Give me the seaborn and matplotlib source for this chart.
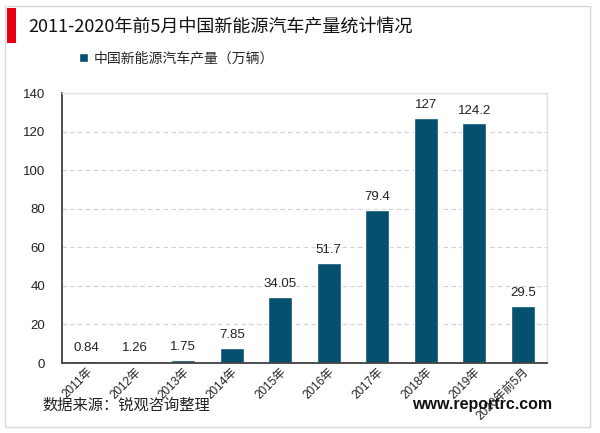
import matplotlib
matplotlib.use("Agg")
import matplotlib.pyplot as plt
import seaborn as sns
import pandas as pd
from matplotlib.patches import Rectangle

years = ["2011年", "2012年", "2013年", "2014年", "2015年", "2016年",
         "2017年", "2018年", "2019年", "2020年前5月"]
output = [0.84, 1.26, 1.75, 7.85, 34.05, 51.7, 79.4, 127, 124.2, 29.5]
value_labels = ["0.84", "1.26", "1.75", "7.85", "34.05", "51.7", "79.4", "127", "124.2", "29.5"]
y_ticks = [0, 20, 40, 60, 80, 100, 120, 140]
series_name = "中国新能源汽车产量（万辆）"

sns.set_style("white")
plt.rcParams['font.family'] = ['Liberation Sans', 'Noto Sans CJK SC', 'DejaVu Sans']

bar_color = "#04506e"
df = pd.DataFrame({"year": years, "output": output})

fig = plt.figure(figsize=(6, 4.33), dpi=100)

# outer frame and red marker
fig.patches.append(Rectangle((5 / 600, 6 / 433), 585 / 600, 421 / 433, transform=fig.transFigure,
                             fill=False, edgecolor="#d9d9d9", linewidth=1))
fig.patches.append(Rectangle((7 / 600, 1 - 43 / 433), 9 / 600, 35 / 433, transform=fig.transFigure,
                             facecolor="#e60012", edgecolor="none"))
fig.text(28 / 600, 1 - 27 / 433, "2011-2020年前5月中国新能源汽车产量统计情况", fontsize=13,
         family=['Noto Sans CJK SC', 'DejaVu Sans'], va="center", ha="left", color="#111111")

ax = fig.add_axes([62 / 600, 70 / 433, 485 / 600, 270 / 433])
sns.barplot(data=df, x="year", y="output", color=bar_color, width=0.5, saturation=1, ax=ax,
            label=series_name)

ax.set_ylim(0, 140)
ax.set_yticks(y_ticks)
ax.set_xlim(-0.5, len(years) - 0.5)
ax.yaxis.grid(True, linestyle=(0, (4, 3)), color="#d0d0d0", linewidth=0.8)
ax.set_axisbelow(True)
ax.set_xlabel("")
ax.set_ylabel("")

for side in ["top", "right"]:
    ax.spines[side].set_color("#e0e0e0")
    ax.spines[side].set_linewidth(1)
for side in ["left", "bottom"]:
    ax.spines[side].set_color("#404040")
    ax.spines[side].set_linewidth(1.3)

ax.tick_params(axis="y", length=0, labelsize=9.5, labelcolor="#222222", pad=12)
ax.tick_params(axis="x", length=0, labelsize=8.5, labelcolor="#222222", pad=2)
for lbl in ax.get_xticklabels():
    lbl.set_rotation(45)
    lbl.set_ha("right")
    lbl.set_rotation_mode("anchor")

for i, (v, t) in enumerate(zip(output, value_labels)):
    ax.annotate(t, (i, v), xytext=(0, 5), textcoords="offset points",
                ha="center", va="bottom", fontsize=9.5, color="#222222")

leg = ax.legend(loc="upper left", bbox_to_anchor=(0.01, 1.2), frameon=False,
                handlelength=0.6, handleheight=0.6, handletextpad=0.4,
                prop={'family': ['Noto Sans CJK SC', 'DejaVu Sans'], 'size': 10})

fig.text(42 / 600, 1 - 405 / 433, "数据来源：锐观咨询整理", fontsize=11,
         family=['Noto Sans CJK SC', 'DejaVu Sans'], va="center", ha="left", color="#222222")
fig.text(552 / 600, 1 - 404 / 433, "www.reportrc.com", fontsize=11.5, fontweight="bold",
         va="center", ha="right", color="#111111")

fig.savefig("out.png", dpi=100)
